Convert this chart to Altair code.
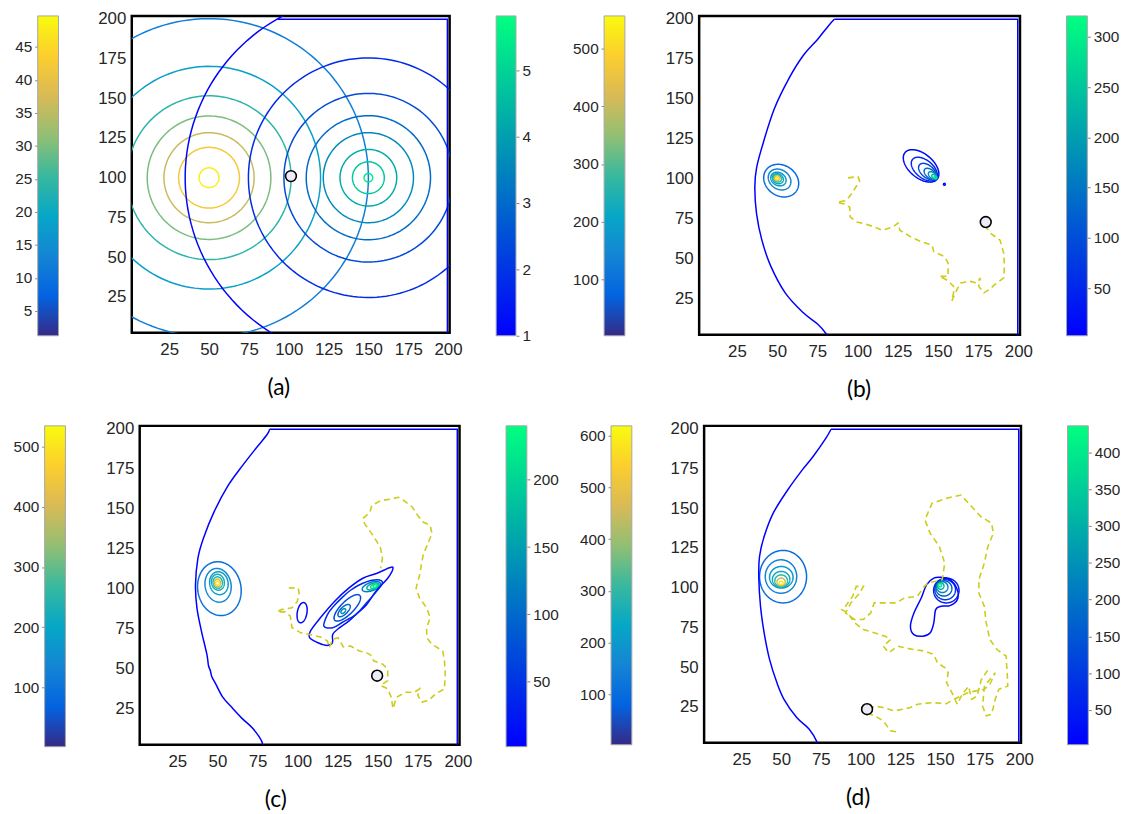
import numpy as np
import pandas as pd
import altair as alt

# ---------------- colormaps (MATLAB parula / winter) ----------------
PARULA = ["#352a87", "#0363e1", "#1485d4", "#06a7c6", "#38b99e",
          "#92bf73", "#d9ba56", "#fcce2e", "#f9fb0e"]
WINTER = ["#0000ff", "#00ff80"]
TRAJ_COLOR = "#cccc1a"

XDOM = [1.5, 201.0]
YDOM = [2.5, 201.7]
AX_TICKS = [25, 50, 75, 100, 125, 150, 175, 200]

# ---------------- panel (a) ----------------
A_CB_LEFT = [1.25, 49.7]
A_CB_LEFT_TICKS = [5, 10, 15, 20, 25, 30, 35, 40, 45]
A_CB_RIGHT = [1.0, 5.82]
A_CB_RIGHT_TICKS = [1, 2, 3, 4, 5]
A_LEFT_CENTER = (50.0, 100.0)
A_LEFT_RADII = [6.2, 19.1, 28.3, 38.8, 51.5, 70.0, 100.0]
A_LEFT_LEVELS = [48, 42, 36, 30, 24, 18, 12]
A_RIGHT_CENTER = (150.0, 100.0)
A_RIGHT_RADII = [2.7, 10.0, 17.8, 28.3, 39.0, 53.0, 75.3, 115.0]
A_RIGHT_LEVELS = [5.4, 4.8, 4.2, 3.6, 3.0, 2.4, 1.8, 1.1]
A_EDGE = [(93.0, 199.6), (199.6, 199.6), (199.6, 0.0)]
A_MARKER = (101.4, 101.0)

# ---------------- panel (b) ----------------
B_CB_LEFT = [2.0, 557.0]
B_CB_LEFT_TICKS = [100, 200, 300, 400, 500]
B_CB_RIGHT = [2.6, 321.0]
B_CB_RIGHT_TICKS = [50, 100, 150, 200, 250, 300]
B_LEFT_ELL = [(52.5, 98.8, 11.5, 9.5, -35), (51.5, 99.5, 7.5, 6.0, -35),
              (50.8, 99.8, 5.0, 4.0, -30), (50.4, 100.0, 3.6, 3.0, -30),
              (50.2, 100.2, 2.6, 2.2, -30), (50.0, 100.3, 1.7, 1.5, 0),
              (50.0, 100.3, 0.9, 0.8, 0)]
B_LEFT_LEVELS = [90, 140, 180, 220, 260, 420, 530]
B_RIGHT_ELL = [(139.5, 108.0, 13.0, 7.5, -40), (141.5, 106.0, 9.5, 5.5, -40),
               (143.5, 104.5, 6.5, 3.8, -40), (145.2, 103.0, 4.5, 2.6, -40),
               (146.6, 102.0, 3.0, 1.8, -40), (147.7, 101.2, 1.8, 1.1, -40),
               (148.4, 100.8, 0.9, 0.6, -40), (154.0, 96.5, 0.6, 0.6, 0)]
B_RIGHT_LEVELS = [15, 50, 90, 135, 180, 230, 290, 15]
B_BOUNDARY = [(81.5, 0.0), (80.6, 3.0), (75.1, 9.2), (66.1, 16.4), (55.0, 28.7),
              (46.1, 45.2), (40.5, 61.6), (37.2, 78.0), (36.1, 94.5), (37.2, 106.8),
              (41.6, 123.3), (48.3, 143.9), (57.2, 162.4), (66.1, 176.8),
              (75.1, 187.0), (81.7, 195.3), (85.5, 199.6)]
B_EDGE = [(85.5, 199.6), (199.6, 199.6), (199.6, 0.0)]
B_TRAJ = [(94.0, 100.5), (100.2, 101.3), (101.3, 98.6), (96.2, 90.4), (92.9, 86.3),
          (87.3, 85.3), (91.8, 84.2), (95.1, 82.2), (95.5, 76.0), (99.6, 72.9),
          (104.0, 71.9), (110.7, 69.8), (115.1, 67.8), (118.5, 68.8), (121.8, 69.8),
          (125.2, 72.3), (126.3, 67.8), (133.0, 63.7), (139.6, 60.6), (146.3, 58.5),
          (147.4, 54.4), (154.1, 51.3), (156.3, 47.2), (156.3, 39.0), (150.8, 39.0),
          (155.2, 36.9), (159.7, 32.8), (159.7, 28.7), (158.6, 23.6), (160.8, 28.7),
          (164.1, 34.9), (169.7, 35.9), (174.2, 34.9), (176.4, 38.0), (175.3, 32.8),
          (178.6, 28.7), (182.0, 30.8), (185.3, 33.8), (190.9, 38.0), (191.3, 45.2),
          (190.9, 53.4), (188.6, 61.6), (183.0, 65.7), (179.7, 69.8), (179.7, 74.0)]
B_MARKER = (179.7, 72.9)

# ---------------- panel (c) ----------------
C_CB_LEFT = [2.0, 534.0]
C_CB_LEFT_TICKS = [100, 200, 300, 400, 500]
C_CB_RIGHT = [1.8, 240.0]
C_CB_RIGHT_TICKS = [50, 100, 150, 200]
C_LEFT_ELL = [(51.2, 100.0, 16.9, 13.5, -80), (50.4, 102.1, 10.6, 8.1, -80),
              (50.9, 103.4, 7.2, 5.75, -80), (50.3, 104.0, 5.0, 4.0, -80),
              (50.2, 103.8, 3.6, 2.9, -80), (50.1, 103.6, 2.4, 1.9, -80),
              (50.0, 103.4, 1.3, 1.1, -80)]
C_LEFT_LEVELS = [90, 140, 180, 220, 260, 400, 500]
C_RIGHT_ELL = [(131.0, 88.0, 11.0, 4.0, 45), (129.0, 86.3, 5.0, 2.2, 45),
               (128.5, 86.0, 1.8, 1.1, 45), (146.0, 101.3, 6.0, 2.6, 20),
               (147.0, 101.4, 4.0, 1.9, 20), (147.8, 101.5, 2.4, 1.3, 20),
               (148.3, 101.6, 1.2, 0.8, 20), (102.8, 85.0, 6.4, 3.0, 80)]
C_RIGHT_LEVELS = [70, 100, 130, 120, 160, 200, 230, 10]
C_RIGHT_POLY_OUTER = [(107.5, 69.4), (112.0, 66.5), (117.5, 64.6), (121.0, 65.3),
                      (121.9, 67.3), (121.9, 71.4), (126.0, 75.5), (131.9, 79.7),
                      (137.0, 84.5), (143.0, 90.0), (149.6, 99.3), (156.2, 106.5),
                      (159.5, 112.7), (157.3, 113.1), (149.6, 109.6), (140.7, 106.5),
                      (131.9, 100.3), (123.0, 92.0), (114.2, 81.8), (108.0, 73.5)]
C_RIGHT_POLY_INNER = [(116.4, 76.6), (121.9, 75.6), (128.0, 79.0), (136.3, 83.8),
                      (142.0, 90.0), (147.3, 96.1), (152.9, 103.4), (149.6, 105.5),
                      (140.7, 103.4), (133.0, 99.0), (127.4, 94.1), (122.0, 88.5),
                      (118.6, 83.8)]
C_RIGHT_POLY_LEVELS = [10, 40]
C_BOUNDARY = [(77.7, 0.0), (77.7, 4.4), (72.1, 12.6), (65.5, 18.8), (58.8, 26.0),
              (53.3, 32.2), (48.9, 40.5), (46.5, 45.0), (45.6, 48.7), (44.4, 52.0),
              (43.4, 59.0), (40.0, 73.5), (37.2, 88.0), (36.3, 102.4), (37.8, 118.9),
              (41.2, 131.3), (47.8, 147.8), (56.6, 164.3), (65.5, 176.7),
              (74.3, 188.0), (81.0, 196.3), (82.5, 199.6)]
C_EDGE = [(82.5, 199.6), (199.6, 199.6), (199.6, 0.0)]
C_TRAJ = [(94.5, 100.5), (100.4, 100.3), (101.0, 97.0), (99.8, 92.0), (96.5, 88.0),
          (89.8, 86.9), (87.2, 85.5), (92.2, 85.5), (95.4, 82.8), (96.5, 75.6),
          (102.0, 72.4), (107.5, 71.4), (114.2, 69.8), (118.6, 67.3), (119.7, 63.2),
          (121.9, 68.3), (125.2, 69.4), (128.5, 63.6), (133.0, 64.2), (138.5, 61.1),
          (143.0, 60.0), (146.3, 58.0), (147.4, 54.9), (152.9, 52.9), (156.2, 49.8),
          (156.2, 42.6), (151.8, 39.5), (156.2, 37.4), (158.4, 32.2), (159.5, 25.0),
          (161.7, 32.2), (167.3, 35.3), (172.8, 35.3), (176.1, 37.4), (175.0, 33.3),
          (177.3, 29.1), (181.6, 30.1), (186.1, 34.3), (191.6, 37.4), (192.1, 46.7),
          (191.6, 54.9), (190.5, 61.1), (183.8, 65.3), (180.5, 69.4), (180.5, 75.6),
          (182.7, 81.8), (180.5, 88.0), (176.1, 94.1), (173.9, 100.3), (176.1, 108.6),
          (177.2, 114.8), (178.3, 121.0), (183.8, 134.4), (182.7, 139.5), (178.3, 141.6),
          (174.9, 145.7), (171.6, 150.9), (165.0, 156.0), (162.8, 157.1), (158.4, 156.0),
          (151.8, 155.0), (146.2, 151.9), (145.1, 147.8), (140.7, 143.7), (141.8, 140.6),
          (146.2, 134.4), (149.6, 129.2), (151.8, 125.1), (152.9, 118.9), (151.8, 112.7)]
C_MARKER = (149.6, 45.6)

# ---------------- panel (d) ----------------
D_CB_LEFT = [3.0, 619.0]
D_CB_LEFT_TICKS = [100, 200, 300, 400, 500, 600]
D_CB_RIGHT = [2.8, 436.0]
D_CB_RIGHT_TICKS = [50, 100, 150, 200, 250, 300, 350, 400]
D_LEFT_ELL = [(51.2, 106.9, 14.8, 16.5, 0), (49.9, 107.0, 9.9, 10.5, 0),
              (50.1, 106.5, 7.4, 6.8, 0), (50.0, 105.2, 5.5, 5.0, 0),
              (50.0, 104.3, 4.0, 3.7, 0), (50.0, 103.6, 2.6, 2.4, 0),
              (50.0, 103.0, 1.2, 1.1, 0)]
D_LEFT_LEVELS = [100, 150, 200, 250, 300, 450, 590]
D_RIGHT_ELL = [(154.0, 98.2, 8.0, 7.8, 0), (153.3, 98.7, 6.5, 6.3, 0),
               (152.5, 99.5, 5.0, 4.8, 0), (151.5, 100.3, 3.5, 3.4, 0),
               (150.5, 101.0, 2.0, 2.0, 0), (150.0, 101.5, 1.0, 1.0, 0)]
D_RIGHT_LEVELS = [50, 100, 160, 230, 310, 400]
D_RIGHT_POLY = [(150.7, 106.5), (156.3, 105.0), (160.9, 98.7), (160.9, 92.5),
                (156.3, 88.7), (150.7, 88.3), (147.3, 86.2), (146.1, 77.8),
                (143.9, 71.6), (139.3, 69.5), (133.6, 70.5), (131.4, 75.8),
                (133.6, 84.1), (138.2, 93.5), (141.6, 101.9), (146.1, 106.0)]
D_RIGHT_POLY_LEVELS = [10]
D_BOUNDARY = [(72.7, 0.0), (72.7, 2.7), (67.7, 11.0), (59.8, 18.3), (51.8, 29.8),
              (47.3, 40.3), (42.7, 54.9), (39.3, 71.6), (37.0, 88.3), (35.9, 107.1),
              (36.4, 119.6), (39.3, 132.1), (45.0, 146.8), (54.1, 161.4), (63.2, 173.9),
              (70.0, 182.3), (78.0, 193.7), (81.4, 199.6)]
D_EDGE = [(81.4, 199.6), (199.6, 199.6), (199.6, 0.0)]
D_TRAJ = [(122.3, 9.4), (118.9, 10.0), (116.6, 13.1), (114.3, 16.2), (110.9, 18.3),
          (106.4, 20.4), (104.1, 23.6), (109.0, 25.5), (114.3, 24.6), (121.1, 22.5),
          (126.8, 23.6), (131.4, 24.6), (135.9, 26.7), (145.0, 27.7), (154.1, 27.1),
          (158.6, 29.8), (163.2, 31.9), (167.7, 34.0), (172.3, 35.1), (178.0, 36.1),
          (181.4, 39.2), (184.8, 46.5), (182.0, 43.0), (178.0, 38.0), (176.8, 25.6),
          (179.1, 19.4), (182.5, 20.4), (184.8, 29.8), (187.0, 36.1), (192.7, 38.2),
          (192.3, 46.5), (191.6, 57.0), (185.9, 61.1), (181.4, 67.4), (179.1, 77.8),
          (177.9, 88.3), (174.5, 96.6), (174.5, 105.0), (177.9, 115.4), (180.2, 125.9),
          (183.6, 134.2), (182.5, 140.5), (175.7, 144.7), (170.0, 150.9), (163.2, 158.2),
          (154.1, 156.2), (145.0, 153.0), (140.5, 142.6), (143.8, 134.2), (149.6, 125.9),
          (153.0, 115.4), (151.4, 105.0), (142.5, 102.9), (140.2, 100.8), (135.7, 94.5),
          (127.7, 93.5), (122.3, 90.4), (115.4, 90.4), (108.6, 90.4), (106.4, 84.1),
          (101.8, 80.0), (96.1, 80.0), (90.5, 84.1), (93.9, 90.4), (99.5, 96.6),
          (101.8, 100.8), (97.3, 100.8), (95.0, 94.5), (90.5, 88.3), (88.2, 86.2),
          (92.0, 84.0), (96.1, 78.0), (101.8, 73.7), (108.6, 71.6), (115.4, 69.5),
          (118.9, 67.4), (114.3, 63.2), (117.7, 59.1), (123.4, 63.2), (127.7, 62.2),
          (133.4, 61.1), (140.5, 60.1), (146.1, 58.0), (148.4, 52.8), (153.0, 49.7),
          (155.2, 46.5), (154.1, 40.3), (156.4, 36.1), (158.6, 31.9), (160.9, 26.7),
          (164.0, 33.0), (168.0, 38.0), (170.0, 29.8), (173.4, 31.9), (176.0, 42.0),
          (180.0, 48.0)]
D_MARKER = (104.1, 23.6)


# ---------------- helpers ----------------
def ellipse_df(ells, levels, n=160):
    t = np.linspace(0.0, 2.0 * np.pi, n)
    frames = []
    for k, ((cx, cy, rx, ry, ang), lev) in enumerate(zip(ells, levels)):
        a = np.deg2rad(ang)
        ex = cx + rx * np.cos(t) * np.cos(a) - ry * np.sin(t) * np.sin(a)
        ey = cy + rx * np.cos(t) * np.sin(a) + ry * np.sin(t) * np.cos(a)
        frames.append(pd.DataFrame({"x": ex, "y": ey, "level": lev,
                                    "cid": f"e{k}", "ord": np.arange(n)}))
    return frames


def poly_df(polys, levels, prefix):
    frames = []
    for k, (pts, lev) in enumerate(zip(polys, levels)):
        frames.append(pd.DataFrame({"x": [p[0] for p in pts], "y": [p[1] for p in pts],
                                    "level": lev, "cid": f"{prefix}{k}",
                                    "ord": np.arange(len(pts))}))
    return frames


def pscale(dom):
    return alt.Scale(domain=list(np.linspace(dom[0], dom[1], len(PARULA))),
                     range=PARULA, interpolate="rgb")


def wscale(dom):
    return alt.Scale(domain=list(dom), range=WINTER, interpolate="rgb")


def enc_xy(title, tx):
    x = alt.X("x:Q", scale=alt.Scale(domain=XDOM, nice=False, zero=False),
              axis=alt.Axis(values=AX_TICKS, title=title, titleFont="Lato",
                            titleFontSize=23, titleFontWeight="normal", titleColor="black",
                            titleX=tx, titleY=55, titleBaseline="middle", titleAlign="center",
                            labelFontSize=17, ticks=False, domain=False, grid=False,
                            labelPadding=9, labelFlush=False))
    y = alt.Y("y:Q", scale=alt.Scale(domain=YDOM, nice=False, zero=False),
              axis=alt.Axis(values=AX_TICKS, title=None, labelFontSize=17, ticks=False,
                            domain=False, grid=False, labelPadding=6, labelFlush=False))
    return x, y


def line_layer(frames, scale, title, tx, interp="linear"):
    df = pd.concat(frames, ignore_index=True)
    x, y = enc_xy(title, tx)
    return alt.Chart(df).mark_line(strokeWidth=1.5, clip=True, interpolate=interp).encode(
        x=x, y=y,
        color=alt.Color("level:Q", scale=scale, legend=None),
        detail="cid:N", order="ord:Q")


def main_chart(title, tx, w, h, pdom, wdom, left_ell, left_lev, right_ell, right_lev,
               edge, boundary=None, closed=None, closed_lev=None, traj=None, marker=None):
    layers = []
    layers.append(line_layer(ellipse_df(left_ell, left_lev), pscale(pdom), title, tx))
    wf = ellipse_df(right_ell, right_lev) + poly_df([edge], [wdom[0]], "edge")
    layers.append(line_layer(wf, wscale(wdom), title, tx))
    if boundary is not None:
        layers.append(line_layer(poly_df([boundary], [wdom[0]], "b"), wscale(wdom),
                                 title, tx, "cardinal"))
    if closed is not None:
        layers.append(line_layer(poly_df(closed, closed_lev, "c"), wscale(wdom),
                                 title, tx, "cardinal-closed"))
    x, y = enc_xy(title, tx)
    if traj is not None:
        tdf = pd.DataFrame({"x": [p[0] for p in traj], "y": [p[1] for p in traj],
                            "ord": np.arange(len(traj))})
        layers.append(alt.Chart(tdf).mark_line(color=TRAJ_COLOR, strokeWidth=1.6,
                                               strokeDash=[6, 4], clip=True)
                      .encode(x=x, y=y, order="ord:Q"))
    mdf = pd.DataFrame({"x": [marker[0]], "y": [marker[1]]})
    layers.append(alt.Chart(mdf).mark_point(shape="circle", size=120, filled=True,
                                            fill="#ececf6", stroke="black",
                                            strokeWidth=1.6, opacity=1)
                  .encode(x=x, y=y))
    return alt.layer(*layers).resolve_scale(color="independent").properties(
        width=w, height=h, view=alt.ViewBackground(stroke="black", strokeWidth=2.5))


def colorbar(dom, ticks, colors, side, w=21, h=323):
    grad = alt.Gradient(gradient="linear",
                        stops=[alt.GradientStop(color=c, offset=i / (len(colors) - 1))
                               for i, c in enumerate(colors)],
                        x1=0, x2=0, y1=1, y2=0)
    df = pd.DataFrame({"lo": [dom[0]], "hi": [dom[1]]})
    return alt.Chart(df).mark_rect(fill=grad, stroke="#a6a6a6", strokeWidth=1).encode(
        x=alt.value(0), x2=alt.value(w),
        y=alt.Y("lo:Q", scale=alt.Scale(domain=list(dom), nice=False, zero=False),
                axis=alt.Axis(orient=side, values=ticks, title=None, domain=False,
                              grid=False, tickSize=3, tickColor="#7f7f7f",
                              labelPadding=3, labelFontSize=15.5, labelFlush=False)),
        y2="hi:Q").properties(width=w, height=h)


def spacer(w):
    return alt.Chart(pd.DataFrame({"v": [0]})).mark_point(opacity=0).encode(
        x=alt.X("v:Q", axis=None), y=alt.Y("v:Q", axis=None)).properties(width=w, height=10)


# ---------------- build panels ----------------
A_LEFT_ELL = [(A_LEFT_CENTER[0], A_LEFT_CENTER[1], r, r, 0) for r in A_LEFT_RADII]
A_RIGHT_ELL = [(A_RIGHT_CENTER[0], A_RIGHT_CENTER[1], r, r, 0) for r in A_RIGHT_RADII]

main_a = main_chart("(a)", 148, 321, 320, A_CB_LEFT, A_CB_RIGHT, A_LEFT_ELL, A_LEFT_LEVELS,
                    A_RIGHT_ELL, A_RIGHT_LEVELS, A_EDGE, marker=A_MARKER)
main_b = main_chart("(b)", 161, 324, 322, B_CB_LEFT, B_CB_RIGHT, B_LEFT_ELL, B_LEFT_LEVELS,
                    B_RIGHT_ELL, B_RIGHT_LEVELS, B_EDGE, boundary=B_BOUNDARY,
                    traj=B_TRAJ, marker=B_MARKER)
main_c = main_chart("(c)", 137, 323, 322, C_CB_LEFT, C_CB_RIGHT, C_LEFT_ELL, C_LEFT_LEVELS,
                    C_RIGHT_ELL, C_RIGHT_LEVELS, C_EDGE, boundary=C_BOUNDARY,
                    closed=[C_RIGHT_POLY_OUTER, C_RIGHT_POLY_INNER],
                    closed_lev=C_RIGHT_POLY_LEVELS, traj=C_TRAJ, marker=C_MARKER)
main_d = main_chart("(d)", 155, 320, 320, D_CB_LEFT, D_CB_RIGHT, D_LEFT_ELL, D_LEFT_LEVELS,
                    D_RIGHT_ELL, D_RIGHT_LEVELS, D_EDGE, boundary=D_BOUNDARY,
                    closed=[D_RIGHT_POLY], closed_lev=D_RIGHT_POLY_LEVELS,
                    traj=D_TRAJ, marker=D_MARKER)

row1 = [spacer(1), colorbar(A_CB_LEFT, A_CB_LEFT_TICKS, PARULA, "left"), spacer(74), main_a,
        spacer(47), colorbar(A_CB_RIGHT, A_CB_RIGHT_TICKS, WINTER, "right", w=20), spacer(89),
        colorbar(B_CB_LEFT, B_CB_LEFT_TICKS, PARULA, "left"), spacer(75), main_b,
        spacer(47), colorbar(B_CB_RIGHT, B_CB_RIGHT_TICKS, WINTER, "right")]
row2 = [spacer(8), colorbar(C_CB_LEFT, C_CB_LEFT_TICKS, PARULA, "left", h=324), spacer(75), main_c,
        spacer(47), colorbar(C_CB_RIGHT, C_CB_RIGHT_TICKS, WINTER, "right", h=324), spacer(85),
        colorbar(D_CB_LEFT, D_CB_LEFT_TICKS, PARULA, "left", h=322), spacer(73), main_d,
        spacer(47), colorbar(D_CB_RIGHT, D_CB_RIGHT_TICKS, WINTER, "right", h=322)]

row1c = alt.hconcat(*row1, spacing=0, bounds="flush")
row2c = alt.hconcat(*row2, spacing=0, bounds="flush")

chart = alt.vconcat(row1c, row2c, spacing=15).properties(
    padding={"left": 5, "top": -4, "right": 0, "bottom": 0}
).configure_view(stroke=None).configure_axis(
    labelFont="Liberation Sans", labelColor="#262626"
)

chart.save("out.html", embed_options={"renderer": "svg", "actions": False})
